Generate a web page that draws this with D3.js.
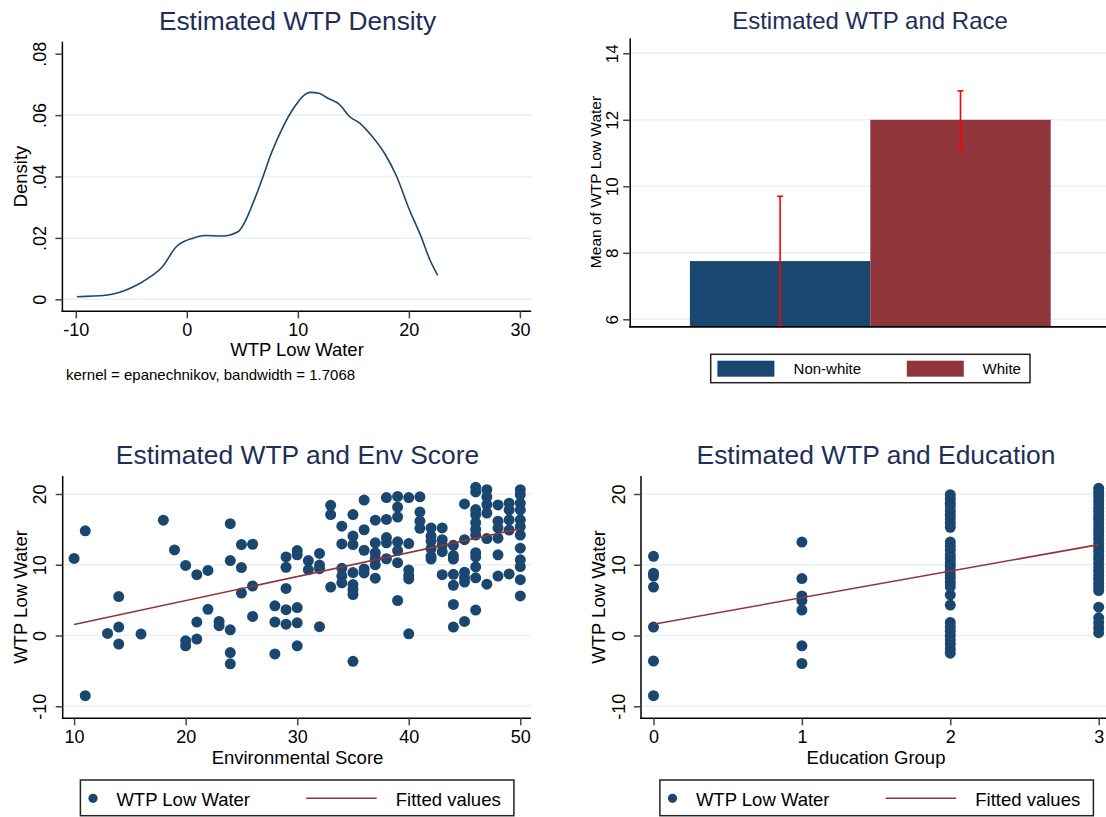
<!DOCTYPE html>
<html>
<head>
<meta charset="utf-8">
<script src="https://cdn.jsdelivr.net/npm/d3@7"></script>
<style>
body { margin: 0; background: #fff; }
svg { font-family: 'Liberation Sans', Arial, sans-serif; display: block; }
</style>
</head>
<body>
<svg id="chart" width="1106" height="817"></svg>
<script>
// kernel density of WTP
const densityX = [-9.9, -7.3, -4.9, -3.5, -2.2, -0.95, 0.63, 1.6, 3.2, 4.6, 5.2, 5.7, 6.7, 7.6,
    8.6, 9.7, 10.5, 11.1, 11.9, 12.7, 13.8, 14.6, 15.6, 16.7, 17.9, 18.9, 20.0, 21.1, 21.9, 22.6];
const densityY = [0.00085, 0.0013, 0.0039, 0.0068, 0.0106, 0.0171, 0.020, 0.0208, 0.0206, 0.022,
    0.025, 0.029, 0.0383, 0.0475, 0.0557, 0.0627, 0.0663, 0.0674, 0.0671, 0.0655, 0.0633, 0.0597,
    0.0573, 0.053, 0.047, 0.040, 0.0296, 0.0204, 0.0128, 0.0078];
const densityTicksX = [-10, 0, 10, 20, 30];
const densityTicksY = [0, 0.02, 0.04, 0.06, 0.08];
const densityLabelsY = ['0', '.02', '.04', '.06', '.08'];

// mean WTP by race
const raceGroups = ['Non-white', 'White'];
const raceMeans = [7.75, 12.0];
const raceLow = [5.8, 11.1];
const raceHigh = [9.7, 12.87];
const raceTicks = [6, 8, 10, 12, 14];

// WTP against environmental score
const envScores = [10, 11, 13, 14, 16, 18, 19, 20, 21, 22, 23, 24, 25, 26, 28, 29, 30, 31, 32, 33,
    34, 35, 36, 37, 38, 39, 40, 41, 42, 43, 44, 45, 46, 47, 48, 49, 50];
const envWtp = [
    [10.9], [14.8, -8.5], [0.3], [5.5, 1.2, -1.2], [0.2], [16.3], [12.1],
    [9.9, -0.75, -1.45], [8.6, 1.9, -0.5], [9.2, 3.7], [2.0, 1.4],
    [15.8, 10.6, 0.8, -2.4, -4.0], [12.85, 9.6, 6.0], [12.9, 7.0, 2.7], [4.2, 1.9, -2.6],
    [11.1, 9.65, 6.65, 3.65, 1.6], [12.0, 11.4, 3.95, 1.8, -1.45], [10.6, 9.3],
    [11.6, 9.95, 9.45, 1.25], [18.4, 17.1, 6.85], [15.45, 12.95, 9.5, 8.4, 7.45],
    [17.1, 14.05, 12.85, 8.9, 7.2, 6.5, 5.8, -3.65], [19.15, 14.95, 12.05, 9.4, 8.85],
    [16.3, 13.1, 11.7, 10.9, 10.0, 8.1], [19.5, 16.4, 13.85, 13.1, 10.85],
    [19.65, 18.15, 16.75, 13.25, 12.0, 10.3, 4.95], [19.5, 13.0, 9.25, 8.5, 8.0, 0.25],
    [19.6, 17.45, 16.15, 15.15], [15.2, 14.05, 13.35, 12.3, 11.2, 10.8],
    [15.2, 13.55, 12.75, 11.85, 8.6], [12.75, 11.3, 10.8, 8.65, 7.1, 4.4, 1.2],
    [18.6, 13.55, 8.95, 8.2, 7.55, 2.0],
    [20.95, 20.3, 17.8, 17.1, 15.95, 15.0, 14.2, 11.7, 11.1, 9.7, 8.15, 3.6],
    [20.6, 19.6, 18.5, 17.3, 13.7, 7.25], [18.45, 16.15, 15.2, 13.75, 11.4, 8.4],
    [18.7, 17.75, 16.35, 14.9, 8.7],
    [20.6, 19.9, 18.7, 17.75, 16.35, 15.4, 14.2, 12.35, 10.7, 9.75, 7.9, 5.6]
];
const envFitX = [10, 50];
const envFitY = [1.55, 15.1];
const envTicksX = [10, 20, 30, 40, 50];

// WTP against education group
const eduGroups = [0, 1, 2, 3];
const eduWtp = [
    [11.2, 8.8, 8.4, 6.85, 1.2, -3.6, -8.5],
    [13.2, 8.05, 5.6, 4.95, 3.6, -1.45, -3.95],
    [19.9, 19.3, 18.7, 18.3, 17.6, 17.0, 16.5, 15.9, 15.3, 13.2, 12.6, 12.1, 11.4, 10.9, 10.3,
        9.8, 9.2, 8.6, 8.1, 7.5, 6.9, 5.75, 4.3, 1.85, 1.2, 0.6, 0.0, -0.6, -1.2, -1.9, -2.5],
    [20.8, 20.3, 19.7, 19.1, 18.6, 18.0, 17.5, 16.9, 16.4, 15.8, 15.2, 14.7, 14.1, 13.6, 13.0,
        12.4, 11.9, 11.3, 10.8, 10.2, 9.6, 9.1, 8.5, 8.0, 7.4, 6.9, 6.35, 4.0, 2.5, 1.8, 1.1, 0.4]
];
const eduFitX = [0, 3];
const eduFitY = [1.6, 12.85];
const eduTicksX = [0, 1, 2, 3];
const wtpTicks = [-10, 0, 10, 20];

const navy = '#1a476f', maroon = '#90353b', titleColor = '#1e2e58', gridColor = '#e9f0f3';

const svg = d3.select('#chart');
svg.append('rect').attr('width', 1106).attr('height', 817).attr('fill', '#fff');

const addTitle = (x, y, text, size) => {
    svg.append('text')
        .attr('x', x).attr('y', y)
        .attr('text-anchor', 'middle')
        .attr('font-size', size)
        .attr('fill', titleColor)
        .text(text);
}

const drawFrame = (frame, y, grid) => {
    const g = svg.append('g');
    g.selectAll('.grid').data(grid).join('line')
        .attr('x1', frame.left).attr('x2', frame.right)
        .attr('y1', d => y(d)).attr('y2', d => y(d))
        .attr('stroke', gridColor).attr('stroke-width', 1.5);
    g.append('line').attr('x1', frame.left).attr('x2', frame.left)
        .attr('y1', frame.top).attr('y2', frame.bottom + 0.75)
        .attr('stroke', '#000').attr('stroke-width', 1.5);
    g.append('line').attr('x1', frame.left - 0.75).attr('x2', frame.right)
        .attr('y1', frame.bottom).attr('y2', frame.bottom)
        .attr('stroke', '#000').attr('stroke-width', 1.5);
    return g;
}

const drawLeftAxis = (frame, y, ticks, labels, offset, size) => {
    const ax = svg.append('g')
        .attr('transform', `translate(${frame.left},0)`)
        .call(d3.axisLeft(y).tickValues(ticks).tickSize(7).tickFormat((d, i) => labels[i]));
    ax.attr('font-family', null).attr('font-size', null);
    ax.select('.domain').remove();
    ax.selectAll('line').attr('stroke', '#444').attr('stroke-width', 1.5);
    ax.selectAll('text')
        .attr('x', null).attr('dy', null)
        .attr('text-anchor', 'middle')
        .attr('transform', `translate(${-offset},0) rotate(-90)`)
        .attr('font-size', size).attr('fill', '#000');
}

const drawBottomAxis = (frame, x, ticks, size) => {
    const ax = svg.append('g')
        .attr('transform', `translate(0,${frame.bottom})`)
        .call(d3.axisBottom(x).tickValues(ticks).tickSize(7).tickFormat(d => String(d)));
    ax.attr('font-family', null).attr('font-size', null);
    ax.select('.domain').remove();
    ax.selectAll('line').attr('stroke', '#444').attr('stroke-width', 1.5);
    ax.selectAll('text')
        .attr('y', 24.7).attr('dy', null)
        .attr('font-size', size).attr('fill', '#000');
}

const axisTitleY = (x, y, text, size) => {
    svg.append('text')
        .attr('transform', `translate(${x},${y}) rotate(-90)`)
        .attr('text-anchor', 'middle')
        .attr('font-size', size)
        .text(text);
}

const axisTitleX = (x, y, text, size) => {
    svg.append('text')
        .attr('x', x).attr('y', y)
        .attr('text-anchor', 'middle')
        .attr('font-size', size)
        .text(text);
}

const makeDensity = () => {
    const frame = {left: 62.4, right: 531.2, top: 41.7, bottom: 311.3};
    const x = d3.scaleLinear().domain([-10, 30]).range([75.8, 519.9]);
    const y = d3.scaleLinear().domain([0, 0.08]).range([299.3, 53.7]);
    drawFrame(frame, y, [0, 0.02, 0.04, 0.06]);
    drawLeftAxis(frame, y, densityTicksY, densityLabelsY, 16.5, 18);
    drawBottomAxis(frame, x, densityTicksX, 18);

    const pts = densityX.map((d, i) => ({x: d, y: densityY[i]}));
    const line = d3.line().x(d => x(d.x)).y(d => y(d.y)).curve(d3.curveMonotoneX);
    svg.append('path')
        .datum(pts)
        .attr('d', line)
        .attr('fill', 'none')
        .attr('stroke', navy)
        .attr('stroke-width', 1.6);

    addTitle(297.5, 30, 'Estimated WTP Density', 26.3);
    axisTitleY(26.5, 176.5, 'Density', 18.5);
    axisTitleX(297, 356, 'WTP Low Water', 18.5);
    svg.append('text').attr('x', 66).attr('y', 380).attr('font-size', 15)
        .text('kernel = epanechnikov, bandwidth = 1.7068');
}

const makeRace = () => {
    const frame = {left: 630.2, right: 1106, top: 38.3, bottom: 326.7};
    const x = d3.scaleBand().domain(raceGroups).range([689.9, 1050.7]);
    const y = d3.scaleLinear().domain([6, 14]).range([319.3, 53.3]);
    const colors = [navy, maroon];
    drawFrame(frame, y, raceTicks);

    svg.append('g').selectAll('rect').data(raceGroups).join('rect')
        .attr('x', d => x(d))
        .attr('width', x.bandwidth())
        .attr('y', (d, i) => y(raceMeans[i]))
        .attr('height', (d, i) => frame.bottom - y(raceMeans[i]))
        .attr('fill', (d, i) => colors[i]);

    // error bars
    const eb = svg.append('g').attr('stroke', '#ff0000').attr('stroke-width', 1.6);
    raceGroups.forEach((g, i) => {
        const cx = x(g) + x.bandwidth() / 2;
        const lo = Math.min(y(raceLow[i]), frame.bottom);
        eb.append('line').attr('x1', cx).attr('x2', cx).attr('y1', y(raceHigh[i])).attr('y2', lo);
        eb.append('line').attr('x1', cx - 3).attr('x2', cx + 3).attr('y1', y(raceHigh[i])).attr('y2', y(raceHigh[i]));
        eb.append('line').attr('x1', cx - 3).attr('x2', cx + 3).attr('y1', lo).attr('y2', lo);
    });

    // redraw bottom axis line on top of bars
    svg.append('line').attr('x1', frame.left - 0.75).attr('x2', frame.right)
        .attr('y1', frame.bottom).attr('y2', frame.bottom)
        .attr('stroke', '#000').attr('stroke-width', 1.5);

    drawLeftAxis(frame, y, raceTicks, raceTicks.map(String), 11.9, 17);
    addTitle(870, 29, 'Estimated WTP and Race', 24);
    axisTitleY(601, 182, 'Mean of WTP Low Water', 15.5);

    // legend
    const lg = svg.append('g');
    lg.append('rect').attr('x', 710.7).attr('y', 354.3).attr('width', 319.3).attr('height', 28.4)
        .attr('fill', '#fff').attr('stroke', '#222').attr('stroke-width', 1.5);
    const swatchX = [717.4, 906.8], textX = [793.6, 982.6];
    raceGroups.forEach((g, i) => {
        lg.append('rect').attr('x', swatchX[i]).attr('y', 360.7).attr('width', 57).attr('height', 16)
            .attr('fill', colors[i]);
        lg.append('text').attr('x', textX[i]).attr('y', 374).attr('font-size', 15).text(g);
    });
}

const makeScatter = (frame, xDomain, xRange, groups, values, fitX, fitY, ticksX, title, titleX, xLabel, legendX) => {
    const x = d3.scaleLinear().domain(xDomain).range(xRange);
    const y = d3.scaleLinear().domain([-10, 20]).range([706.3, 494]);
    drawFrame(frame, y, wtpTicks);
    drawLeftAxis(frame, y, wtpTicks, wtpTicks.map(String), 16.5, 18);
    drawBottomAxis(frame, x, ticksX, 18);

    const pts = [];
    groups.forEach((g, i) => values[i].forEach(v => pts.push({x: g, y: v})));
    svg.append('g').selectAll('circle').data(pts).join('circle')
        .attr('cx', d => x(d.x))
        .attr('cy', d => y(d.y))
        .attr('r', 5.5)
        .attr('fill', navy);

    const fit = fitX.map((d, i) => ({x: d, y: fitY[i]}));
    svg.append('path')
        .datum(fit)
        .attr('d', d3.line().x(d => x(d.x)).y(d => y(d.y)))
        .attr('stroke', maroon)
        .attr('stroke-width', 1.6)
        .attr('fill', 'none');

    addTitle(titleX, 464, title, 26.4);
    axisTitleY(frame.left - 36.2, 597, 'WTP Low Water', 18.5);
    axisTitleX(titleX, 764, xLabel, 18.5);

    // legend
    const lg = svg.append('g');
    lg.append('rect').attr('x', legendX).attr('y', 780).attr('width', 433.5).attr('height', 35.7)
        .attr('fill', '#fff').attr('stroke', '#222').attr('stroke-width', 1.5);
    lg.append('circle').attr('cx', legendX + 12.6).attr('cy', 798.3).attr('r', 4.6).attr('fill', navy);
    lg.append('text').attr('x', legendX + 36).attr('y', 805.5).attr('font-size', 18.5).text('WTP Low Water');
    lg.append('line').attr('x1', legendX + 225.8).attr('x2', legendX + 296.3)
        .attr('y1', 798.3).attr('y2', 798.3).attr('stroke', maroon).attr('stroke-width', 1.6);
    lg.append('text').attr('x', legendX + 315.4).attr('y', 805.5).attr('font-size', 18.5).text('Fitted values');
}

makeDensity();
makeRace();
makeScatter({left: 62.7, right: 531, top: 476, bottom: 718.3}, [10, 50], [74.1, 520.3],
    envScores, envWtp, envFitX, envFitY, envTicksX,
    'Estimated WTP and Env Score', 297.5, 'Environmental Score', 80.4);
makeScatter({left: 641, right: 1106, top: 476, bottom: 718.3}, [0, 3], [653.5, 1098.7],
    eduGroups, eduWtp, eduFitX, eduFitY, eduTicksX,
    'Estimated WTP and Education', 876, 'Education Group', 659.9);
</script>
</body>
</html>
